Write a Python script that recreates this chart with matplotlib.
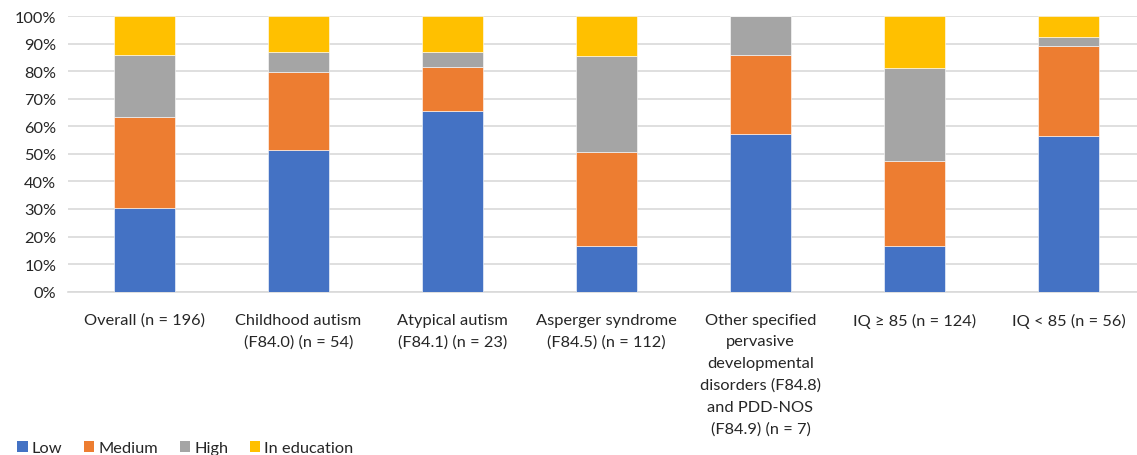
import numpy as np
import matplotlib
matplotlib.use("Agg")
import matplotlib.pyplot as plt
from matplotlib.patches import Patch
from matplotlib.ticker import PercentFormatter

categories = [
    "Overall (n = 196)",
    "Childhood autism\n(F84.0) (n = 54)",
    "Atypical autism\n(F84.1) (n = 23)",
    "Asperger syndrome\n(F84.5) (n = 112)",
    "Other specified\npervasive\ndevelopmental\ndisorders (F84.8)\nand PDD-NOS\n(F84.9) (n = 7)",
    "IQ \u2265 85 (n = 124)",
    "IQ < 85 (n = 56)",
]
low = [30.3, 51.5, 65.7, 16.7, 57.1, 16.7, 56.4]
medium = [33.0, 28.1, 15.7, 34.1, 28.6, 30.6, 32.6]
high = [22.7, 7.2, 5.4, 34.8, 14.3, 34.0, 3.5]
in_education = [14.0, 13.2, 13.2, 14.4, 0.0, 18.7, 7.5]

series = [("Low", low, "#4472C4"),
          ("Medium", medium, "#ED7D31"),
          ("High", high, "#A5A5A5"),
          ("In education", in_education, "#FFC000")]

plt.rcParams['font.family'] = ['Lato', 'DejaVu Sans']

fig = plt.figure(figsize=(11.37, 4.56), dpi=100)
ax = fig.add_axes([67.5 / 1137, 1 - 292.7 / 456, 1 - 67.5 / 1137, (292.7 - 17) / 456])

x = np.arange(len(categories))
bottom = np.zeros(len(categories))
handles = []
for name, vals, color in series:
    vals = np.array(vals)
    ax.bar(x, vals, width=0.4, bottom=bottom, color=color, zorder=3,
           edgecolor="white", linewidth=0.4)
    bottom += vals
    handles.append(Patch(facecolor=color, label=name))

ax.set_ylim(0, 100)
ax.set_xlim(-0.5, 6.445)
ax.set_yticks(np.arange(0, 101, 10))
ax.yaxis.set_major_formatter(PercentFormatter(decimals=0))
ax.set_xticks(x)
ax.set_xticklabels(categories, fontsize=11.8, linespacing=1.7, va="top")
ax.tick_params(axis="y", labelsize=11.8, length=0, pad=8, colors="#262626")
ax.tick_params(axis="x", length=0, pad=15, colors="#262626")
ax.grid(axis="y", color="#d9d9d9", linewidth=1.2, zorder=0)
for s in ["top", "right", "left"]:
    ax.spines[s].set_visible(False)
ax.spines["bottom"].set_color("#d9d9d9")
ax.spines["bottom"].set_linewidth(1.2)

fig.legend(handles=handles, loc="lower left", bbox_to_anchor=(0.002, -0.032),
           ncol=4, frameon=False, fontsize=11.8, handlelength=0.65,
           handleheight=0.65, handletextpad=0.25, columnspacing=1.3,
           labelcolor="#262626")

fig.savefig("out.png", dpi=100)
